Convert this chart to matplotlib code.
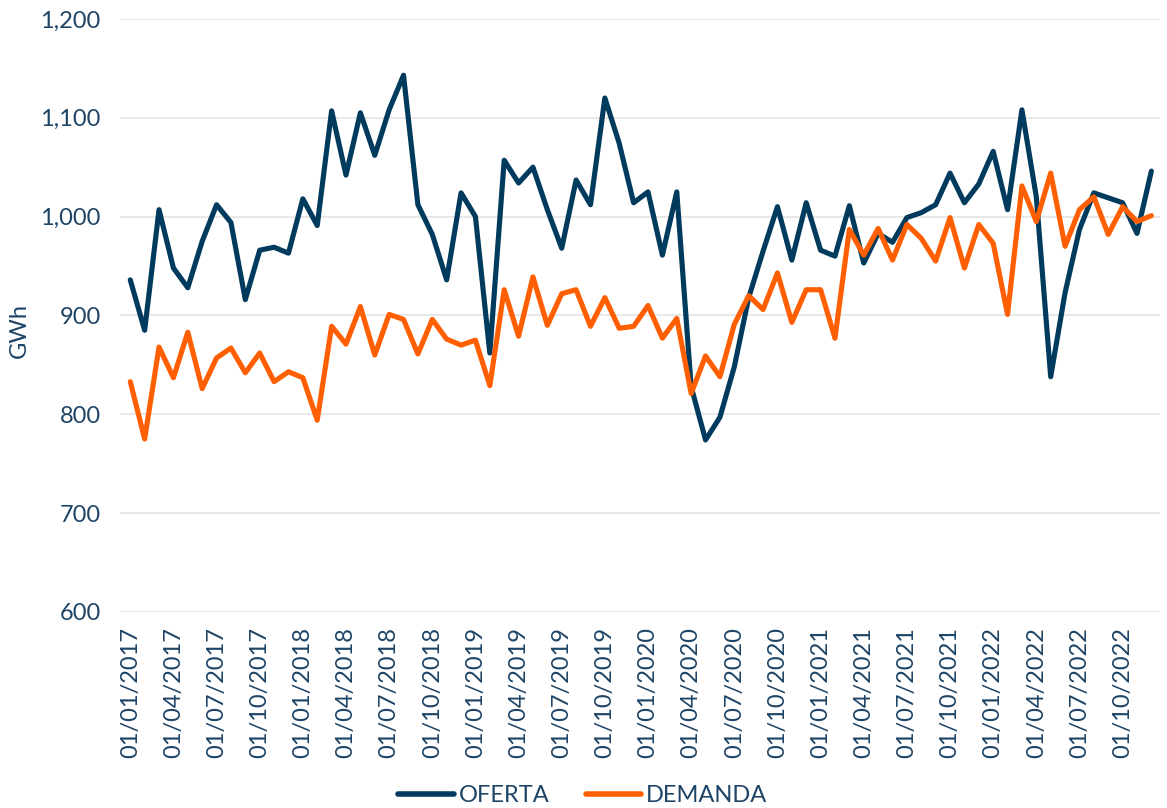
import numpy as np
import matplotlib
matplotlib.use("Agg")
import matplotlib.pyplot as plt

plt.rcParams['font.family'] = ['Lato', 'DejaVu Sans']

years = [2017, 2018, 2019, 2020, 2021, 2022]
months = [f"01/{m:02d}/{y}" for y in years for m in range(1, 13)]

oferta = [936, 885, 1007, 948, 928, 975, 1012, 994, 916, 966, 969, 963,
          1018, 991, 1107, 1042, 1105, 1062, 1108, 1143, 1012, 982, 936, 1024,
          1000, 862, 1057, 1034, 1050, 1007, 968, 1037, 1012, 1120, 1074, 1014,
          1025, 961, 1025, 828, 774, 797, 848, 918, 965, 1010, 956, 1014,
          966, 960, 1011, 953, 983, 974, 999, 1004, 1012, 1044, 1014, 1033,
          1066, 1007, 1108, 1020, 838, 923, 987, 1024, 1019, 1014, 983, 1046]

demanda = [833, 775, 868, 837, 883, 826, 857, 867, 842, 862, 833, 843,
           837, 794, 889, 871, 909, 860, 901, 896, 861, 896, 876, 870,
           875, 829, 926, 879, 939, 890, 922, 926, 889, 918, 887, 889,
           910, 877, 897, 821, 859, 838, 891, 920, 906, 943, 893, 926,
           926, 877, 987, 961, 988, 956, 992, 978, 955, 999, 948, 992,
           973, 901, 1031, 995, 1044, 970, 1007, 1020, 982, 1010, 995, 1001]

navy = '#003A5D'
orange = '#FF5F00'
text_col = '#1E4466'

fig = plt.figure(figsize=(11.67, 8.08), dpi=100)
ax = fig.add_axes([0.103, 0.2426, 0.891, 0.734])

x = np.arange(len(months))
ax.plot(x, oferta, color=navy, lw=3.7, label='OFERTA', solid_joinstyle='round', solid_capstyle='round', zorder=3)
ax.plot(x, demanda, color=orange, lw=3.7, label='DEMANDA', solid_joinstyle='round', solid_capstyle='round', zorder=3)

ax.set_ylim(600, 1200)
ax.set_yticks(np.arange(600, 1201, 100))
ax.set_yticklabels([f"{v:,}" for v in range(600, 1201, 100)])
ax.set_xlim(-0.7, 71.6)
ax.set_xticks(x[::3])
ax.set_xticklabels(months[::3], rotation=90)

ax.grid(axis='y', color='#E6E6E6', lw=1.3, zorder=0)
ax.grid(axis='x', visible=False)
for s in ax.spines.values():
    s.set_visible(False)
ax.tick_params(axis='both', length=0, labelsize=17, colors=text_col)
ax.tick_params(axis='y', pad=14)
ax.tick_params(axis='x', pad=11)
ax.set_ylabel('GWh', fontsize=17, color=text_col, va='center')
ax.yaxis.set_label_coords(-0.097, 0.475)

leg = ax.legend(loc='center', bbox_to_anchor=(0.445, -0.31), ncol=2, frameon=False,
                fontsize=17, handlelength=2.35, handletextpad=0.2, columnspacing=1.55,
                borderaxespad=0)
for t in leg.get_texts():
    t.set_color(text_col)
for h in leg.get_lines():
    h.set_linewidth(4.0)

fig.savefig('out.png', dpi=100, facecolor='white')
